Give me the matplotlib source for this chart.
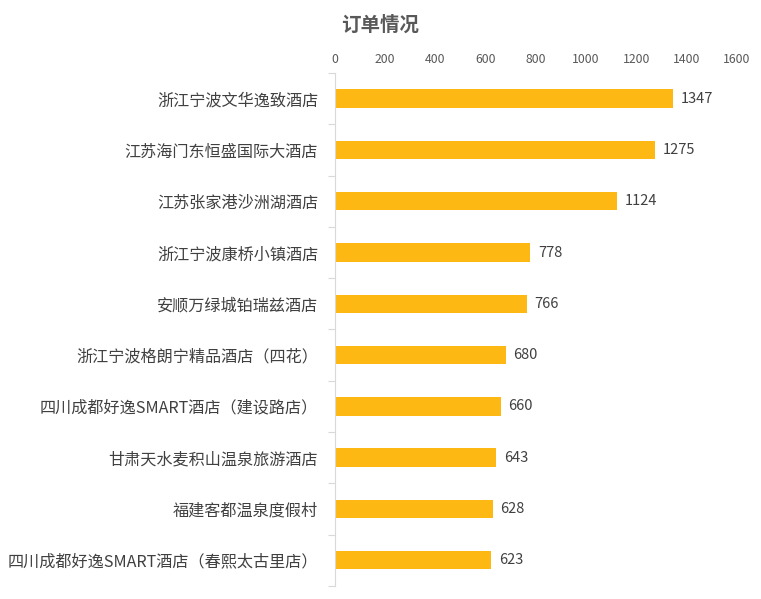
import matplotlib
matplotlib.use("Agg")
import matplotlib.pyplot as plt
import numpy as np

plt.rcParams['font.family'] = ['Noto Sans CJK SC', 'DejaVu Sans']

hotels = [
    "浙江宁波文华逸致酒店",
    "江苏海门东恒盛国际大酒店",
    "江苏张家港沙洲湖酒店",
    "浙江宁波康桥小镇酒店",
    "安顺万绿城铂瑞兹酒店",
    "浙江宁波格朗宁精品酒店（四花）",
    "四川成都好逸SMART酒店（建设路店）",
    "甘肃天水麦积山温泉旅游酒店",
    "福建客都温泉度假村",
    "四川成都好逸SMART酒店（春熙太古里店）",
]
orders = [1347, 1275, 1124, 778, 766, 680, 660, 643, 628, 623]
xticks = [0, 200, 400, 600, 800, 1000, 1200, 1400, 1600]

fig = plt.figure(figsize=(7.61, 5.99), dpi=100)
ax = fig.add_axes([0.440, 0.022, 0.528, 0.856])

y = np.arange(len(hotels))
ax.barh(y, orders, height=0.36, color='#FDB813')
ax.set_ylim(len(hotels) - 0.5, -0.5)
ax.set_xlim(0, 1600)
ax.set_xticks(xticks)
ax.xaxis.tick_top()
ax.tick_params(axis='x', length=0, labelsize=8.8, colors='#595959', pad=5)
ax.set_yticks(y)
ax.set_yticklabels(hotels, fontsize=11.6, color='#404040')
ax.tick_params(axis='y', which='major', length=0, pad=12)
ax.set_yticks(np.arange(-0.5, len(hotels), 1.0), minor=True)
ax.tick_params(axis='y', which='minor', length=5, color='#D9D9D9', width=0.8)
for s in ['top', 'right', 'bottom']:
    ax.spines[s].set_visible(False)
ax.spines['left'].set_color('#D9D9D9')
ax.spines['left'].set_linewidth(0.8)

for yi, v in zip(y, orders):
    ax.text(v + 30, yi, str(v), va='center', ha='left', fontsize=10.5, color='#404040')

fig.text(0.500, 0.958, "订单情况", ha='center', va='center', fontsize=14, fontweight='bold', color='#595959')

fig.savefig("out.png", dpi=100)
